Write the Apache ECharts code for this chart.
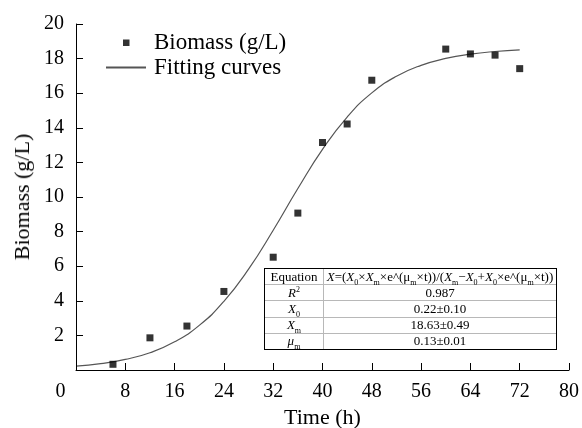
<!DOCTYPE html>
<html>
<head>
<meta charset="utf-8">
<script src="https://cdn.jsdelivr.net/npm/echarts@6/dist/echarts.min.js"></script>
<style>
html, body { margin: 0; padding: 0; background: #fff; }
#wrap { position: relative; width: 582px; height: 428px; }
#chart { width: 582px; height: 428px; }
#ytitle {
	position: absolute; left: 22px; top: 197px;
	transform: translate(-50%, -50%) rotate(-90deg);
	white-space: nowrap; font-family: 'Liberation Serif', serif; font-size: 22px; color: #000;
}
#paramBox {
	position: absolute; left: 264px; top: 268px; width: 291px; height: 80px;
	border: 1.5px solid #000; background: #fff;
}
#params {
	width: 100%; height: 100%; border-collapse: collapse; border: none;
	font-family: 'Liberation Serif', serif; font-size: 13px; color: #000;
}
#params td { border: 1px solid #b8b8b8; padding: 0; text-align: center; line-height: 14px; white-space: nowrap; }
#params tr:first-child td { border-top: none; }
#params tr:last-child td { border-bottom: none; }
#params td:first-child { border-left: none; width: 58px; }
#params td:last-child { border-right: none; }
#params sub, #params sup { font-size: 8px; line-height: 0; }
</style>
</head>
<body>
<div id="wrap">
	<div id="chart"></div>
	<div id="ytitle">Biomass (g/L)</div>
	<div id="paramBox"><table id="params"></table></div>
</div>
<script>
var timeH = [6, 12, 18, 24, 32, 36, 40, 44, 48, 60, 64, 68, 72];
var biomass = [0.33, 1.86, 2.54, 4.54, 6.52, 9.07, 13.15, 14.22, 16.75, 18.55, 18.27, 18.2, 17.42];

// Fitting curve, sampled every 4 h off the picture
var fitTime = [0, 4, 8, 12, 16, 20, 24, 28, 32, 36, 40, 44, 48, 52, 56, 60, 64, 68, 72];
var fitBiomass = [0.22, 0.37, 0.61, 1.0, 1.63, 2.58, 3.97, 5.83, 8.08, 10.49, 12.75, 14.62, 16.02, 16.98, 17.61, 18.01, 18.26, 18.41, 18.5];

// Tick values
var xTicks = [8, 16, 24, 32, 40, 48, 56, 64, 72, 80];
var yTicks = [2, 4, 6, 8, 10, 12, 14, 16, 18, 20];

// Parameter table
var tableLabels = ['Equation', '<i>R</i><sup>2</sup>', '<i>X</i><sub>0</sub>', '<i>X</i><sub>m</sub>', '<i>μ</i><sub>m</sub>'];
var tableValues = [
	'<i>X</i>=(<i>X</i><sub>0</sub>×<i>X</i><sub>m</sub>×e^(μ<sub>m</sub>×t))/(<i>X</i><sub>m</sub>−<i>X</i><sub>0</sub>+<i>X</i><sub>0</sub>×e^(μ<sub>m</sub>×t))',
	'0.987',
	'0.22±0.10',
	'18.63±0.49',
	'0.13±0.01'
];

var serif = 'Liberation Serif';

function pairs(xs, ys) {
	var out = [];
	for (var i = 0; i < xs.length; i++) out.push([xs[i], ys[i]]);
	return out;
}

// Axis frame as mark lines (the axis lines alone did not show up)
function axisFrame() {
	var data = [{ xAxis: 0 }, { yAxis: 0 }];
	xTicks.forEach(function (t) {
		data.push([{ coord: [t, 0] }, { coord: [t, 0.4] }]);
	});
	yTicks.forEach(function (t) {
		data.push([{ coord: [0, t] }, { coord: [1.14, t] }]);
	});
	return {
		silent: true,
		symbol: 'none',
		animation: false,
		label: { show: false },
		lineStyle: { color: '#000', width: 1, type: 'solid' },
		emphasis: { disabled: true },
		data: data
	};
}

// Fills the parameter table
var rows = '';
for (var k = 0; k < tableLabels.length; k++) {
	rows += '<tr><td>' + tableLabels[k] + '</td><td>' + tableValues[k] + '</td></tr>';
}
document.getElementById('params').innerHTML = rows;

var chart = echarts.init(document.getElementById('chart'));

var option = {
	animation: false,
	backgroundColor: '#fff',
	grid: { left: 76, right: 13, top: 24, bottom: 58, outerBoundsMode: 'none' },
	legend: {
		orient: 'vertical',
		left: 105,
		top: 31,
		padding: 0,
		itemWidth: 40,
		itemHeight: 14,
		itemGap: 2,
		textStyle: { fontFamily: serif, fontSize: 23, lineHeight: 22, color: '#000', padding: [0, 0, 0, 3] },
		data: [
			{ name: 'Biomass (g/L)', icon: 'path://M0,0M14,14M4,4h6.5v6.5h-6.5z' },
			{ name: 'Fitting curves', itemStyle: { opacity: 0 } }
		]
	},
	xAxis: {
		type: 'value',
		min: 0,
		max: 80,
		interval: 8,
		name: 'Time (h)',
		nameLocation: 'middle',
		nameGap: 37,
		nameTextStyle: { fontFamily: serif, fontSize: 22, color: '#000' },
		axisLine: { show: true, lineStyle: { color: '#000', width: 1 } },
		axisTick: { show: true, inside: true, length: 7, lineStyle: { color: '#000', width: 1 } },
		axisLabel: {
			fontFamily: serif, fontSize: 20, color: '#000', margin: 12,
			formatter: function (v) { return v === 0 ? '{z|0}' : String(v); },
			rich: { z: { fontFamily: serif, fontSize: 20, color: '#000', padding: [0, 31, 0, 0] } }
		},
		splitLine: { show: false }
	},
	yAxis: {
		type: 'value',
		min: 0,
		max: 20,
		interval: 2,
		axisLine: { show: true, lineStyle: { color: '#000', width: 1 } },
		axisTick: { show: true, inside: true, length: 7, lineStyle: { color: '#000', width: 1 } },
		axisLabel: {
			fontFamily: serif, fontSize: 20, color: '#000', margin: 12,
			formatter: function (v) { return v === 0 ? '' : String(v); }
		},
		splitLine: { show: false }
	},
	series: [
		{
			name: 'Biomass (g/L)',
			type: 'scatter',
			symbol: 'rect',
			symbolSize: 7,
			itemStyle: { color: '#000' },
			data: pairs(timeH, biomass),
			markLine: axisFrame(),
			z: 3
		},
		{
			name: 'Fitting curves',
			type: 'line',
			smooth: true,
			symbol: 'none',
			lineStyle: { color: '#555', width: 1.2 },
			itemStyle: { color: '#555' },
			data: pairs(fitTime, fitBiomass),
			z: 2
		}
	]
};

chart.setOption(option);
</script>
</body>
</html>
